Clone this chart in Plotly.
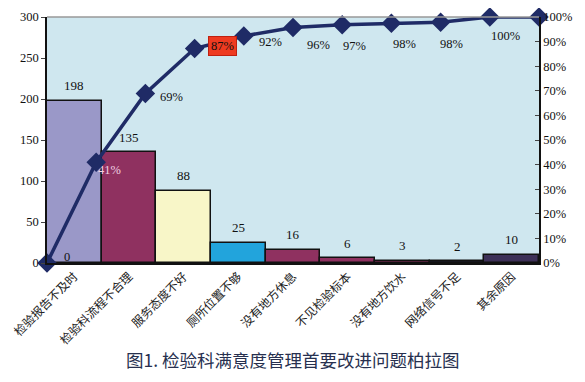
import plotly.graph_objects as go

categories = ["检验报告不及时", "检验科流程不合理", "服务态度不好", "厕所位置不够",
              "没有地方休息", "不见检验标本", "没有地方饮水", "网络信号不足", "其余原因"]
counts = [198, 135, 88, 25, 16, 6, 3, 2, 10]
cum_pct = [0, 41.0, 68.9, 87.2, 92.3, 95.7, 96.9, 97.5, 97.9, 100, 100]
cum_labels = ["0", "41%", "69%", "87%", "92%", "96%", "97%", "98%", "98%", "100%", ""]
left_ticks = [0, 50, 100, 150, 200, 250, 300]
right_ticks = [0, 10, 20, 30, 40, 50, 60, 70, 80, 90, 100]
title_text = "图1. 检验科满意度管理首要改进问题柏拉图"

# styling
bar_colors = ["#9a98c8", "#8f3160", "#f8f6c8", "#22a4dc", "#8f3160",
              "#8f3160", "#8f3160", "#1a1a2a", "#3d3057"]
label_offsets = [(20, 6), (13, -8), (26, -3), (28, 2), (27, -6), (25, -17),
                 (12, -21), (13, -21), (11, -22), (16, -19), (0, 0)]
line_color = "#1f2b66"
serif = "Liberation Serif, Times New Roman, serif"
cjk = "Noto Sans CJK SC, sans-serif"

fig = go.Figure()
fig.add_trace(go.Bar(
    x=list(range(len(categories))), y=counts,
    marker=dict(color=bar_colors, line=dict(color="#111111", width=1.5)),
    xaxis="x", yaxis="y", showlegend=False, hoverinfo="skip",
))
fig.add_trace(go.Scatter(
    x=list(range(len(cum_pct))), y=cum_pct,
    mode="lines+markers",
    line=dict(color=line_color, width=3.5),
    marker=dict(symbol="diamond", size=15, color=line_color),
    xaxis="x2", yaxis="y2", showlegend=False, cliponaxis=False, hoverinfo="skip",
))

annotations = []
for i, v in enumerate(counts):
    annotations.append(dict(x=i, y=v, xref="x", yref="y", text=str(v), showarrow=False,
                            yshift=15, font=dict(family=serif, size=13, color="#111111")))
for i, (v, t) in enumerate(zip(cum_pct, cum_labels)):
    if not t:
        continue
    dx, dy = label_offsets[i]
    a = dict(x=i, y=v, xref="x2", yref="y2", text=t, showarrow=False,
             xshift=dx, yshift=dy, font=dict(family=serif, size=12.5, color="#111111"))
    if t == "41%":
        a["font"]["color"] = "#f0d0e0"
    if t == "87%":
        a.update(bgcolor="#ee3a20", bordercolor="#c02010", borderwidth=1, borderpad=2)
    annotations.append(a)
annotations.append(dict(x=0.5, y=0, xref="paper", yref="paper", yshift=-111, showarrow=False,
                        text=title_text, font=dict(family=cjk, size=17.5, color="#27304f")))

# the page body adds an 8px offset, compensated in the margins
fig.update_layout(
    width=585, height=382,
    margin=dict(l=39, r=54, t=9, b=127),
    paper_bgcolor="white", plot_bgcolor="#cfe7ef",
    bargap=0,
    annotations=annotations,
    xaxis=dict(range=[-0.5, len(categories) - 0.5], tickmode="array",
               tickvals=list(range(len(categories))), ticktext=categories,
               tickangle=-45, tickfont=dict(family=cjk, size=12, color="#222222"),
               showgrid=False, showline=True, linecolor="#111111", linewidth=1.5,
               mirror=False, ticks="", zeroline=False, automargin=False),
    xaxis2=dict(overlaying="x", range=[0, len(cum_pct) - 1], visible=False, automargin=False),
    yaxis=dict(range=[0, 300], tickvals=left_ticks, showgrid=False, showline=True,
               linecolor="#111111", linewidth=1.5, ticks="outside", ticklen=4,
               tickfont=dict(family=serif, size=12.5, color="#111111"), zeroline=False,
               automargin=False),
    yaxis2=dict(range=[0, 100], overlaying="y", side="right", tickvals=right_ticks,
                ticktext=[f"{t}%" for t in right_ticks], showgrid=False, showline=True,
                linecolor="#111111", linewidth=1.5, ticks="inside", ticklen=4,
                tickfont=dict(family=serif, size=12.5, color="#111111"), zeroline=False,
                automargin=False),
    shapes=[dict(type="line", xref="paper", yref="paper", x0=0, x1=1, y0=1, y1=1,
                 line=dict(color="#999999", width=1.5))],
)

fig.write_html("out.html")
